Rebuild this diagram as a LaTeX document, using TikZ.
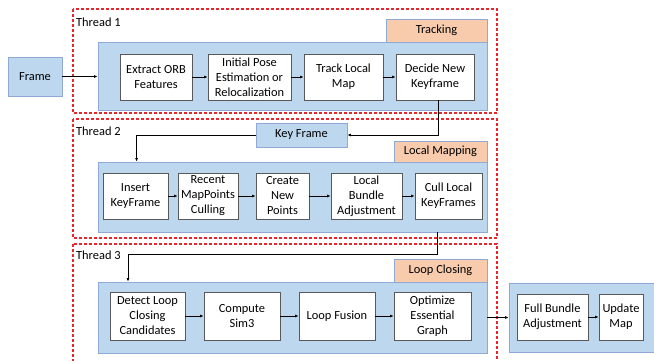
\documentclass[tikz,border=0pt]{standalone}
\usepackage{fontspec}
\setmainfont{Carlito}
\usetikzlibrary{arrows.meta}
\definecolor{panelfill}{HTML}{BDD7EE}
\definecolor{paneledge}{HTML}{8EA9D4}
\definecolor{tabfill}{HTML}{F8CBAD}
\definecolor{stepedge}{HTML}{595959}
\definecolor{threadred}{HTML}{E8262B}
\tikzset{
  panel/.style={draw=paneledge, fill=panelfill, line width=0.8pt, inner sep=0pt},
  tabbox/.style={draw=paneledge, fill=tabfill, line width=0.8pt, inner sep=0pt, font=\fontsize{12.4}{15}\selectfont},
  stepbox/.style={draw=stepedge, fill=white, line width=0.9pt, inner sep=1pt, align=center, font=\fontsize{12.4}{15}\selectfont},
  threadbox/.style={draw=threadred, line width=1.1pt, dash pattern=on 3pt off 2pt},
  threadlabel/.style={anchor=west, inner sep=0pt, font=\fontsize{12.4}{15}\selectfont},
  arr/.style={draw=black, line width=1pt, -{Latex[length=3.5pt,width=3pt]}},
}
\begin{document}
\begin{tikzpicture}[x=1pt, y=-1pt]
\useasboundingbox (0,0) rectangle (654,360);
\begin{scope}
\clip (0,0) rectangle (654,360);

% thread frames
\draw[threadbox] (73,9) rectangle (497,113);
\draw[threadbox] (73,119) rectangle (497,238);
\draw[threadbox] (73,244) rectangle (497,372);
\node[threadlabel] (t1) at (76,22) {Thread 1};
\node[threadlabel] (t2) at (76,131) {Thread 2};
\node[threadlabel] (t3) at (76,255) {Thread 3};

% input frame
\node[panel, minimum width=54, minimum height=39, font=\fontsize{12.4}{15}\selectfont] (frame) at (35,76.5) {Frame};

% tracking
\node[panel, minimum width=389, minimum height=68] (trk) at (292.5,76) {};
\node[tabbox, minimum width=101, minimum height=23] (trktab) at (436.5,30.5) {Tracking};
\node[stepbox, minimum width=72, minimum height=46] (orb) at (156,77) {Extract ORB\\Features};
\node[stepbox, minimum width=83, minimum height=46] (pose) at (249.5,77) {Initial Pose\\Estimation or\\Relocalization};
\node[stepbox, minimum width=79, minimum height=46] (tlm) at (343.5,77) {Track Local\\Map};
\node[stepbox, minimum width=78, minimum height=46] (dec) at (435,77) {Decide New\\Keyframe};

% local mapping
\node[panel, minimum width=91, minimum height=24, font=\fontsize{12.4}{15}\selectfont] (kf) at (301.5,135) {Key Frame};
\node[panel, minimum width=389, minimum height=70] (lm) at (292.5,197) {};
\node[tabbox, minimum width=93, minimum height=21] (lmtab) at (440.5,151.5) {Local Mapping};
\node[stepbox, minimum width=65, minimum height=46] (ins) at (135.5,196) {Insert\\KeyFrame};
\node[stepbox, minimum width=60, minimum height=46] (rmc) at (208,196) {Recent\\MapPoints\\Culling};
\node[stepbox, minimum width=53, minimum height=46] (cnp) at (282.5,196) {Create\\New\\Points};
\node[stepbox, minimum width=71, minimum height=46] (lba) at (366.5,196) {Local\\Bundle\\Adjustment};
\node[stepbox, minimum width=67, minimum height=46] (clk) at (448.5,196) {Cull Local\\KeyFrames};

% loop closing
\node[panel, minimum width=389, minimum height=71] (lc) at (292.5,317.5) {};
\node[tabbox, minimum width=93, minimum height=23] (lctab) at (440.5,270.5) {Loop Closing};
\node[stepbox, minimum width=75, minimum height=48] (dlc) at (147.5,316) {Detect Loop\\Closing\\Candidates};
\node[stepbox, minimum width=76, minimum height=48] (sim) at (242,316) {Compute\\Sim3};
\node[stepbox, minimum width=76, minimum height=48] (fus) at (337,316) {Loop Fusion};
\node[stepbox, minimum width=77, minimum height=48] (opt) at (432.5,316) {Optimize\\Essential\\Graph};

% global optimisation
\node[panel, minimum width=146, minimum height=69] (gba) at (582,317.5) {};
\node[stepbox, minimum width=71, minimum height=46] (fba) at (552.5,317) {Full Bundle\\Adjustment};
\node[stepbox, minimum width=44, minimum height=46] (upd) at (621,317) {Update\\Map};

% connectors
\draw[arr, line width=0.7pt] (frame.east) -- (frame.east -| trk.west);
\draw[arr] (orb) -- (pose);
\draw[arr] (pose) -- (tlm);
\draw[arr] (tlm) -- (dec);
\draw[arr] ([xshift=3]dec.south) |- (kf.east);
\draw[arr] (kf.west) -| ([xshift=39]lm.north west);
\draw[arr] (ins) -- (rmc);
\draw[arr] (rmc) -- (cnp);
\draw[arr] (cnp) -- (lba);
\draw[arr] (lba) -- (clk);
\coordinate (lcbend) at (128,254);
\draw[arr] ([xshift=-50]lm.south east) |- (lcbend) -- (lcbend |- lc.north);
\draw[arr] (dlc) -- (sim);
\draw[arr] (sim) -- (fus);
\draw[arr] (fus) -- (opt);
\draw[arr] (lc.east) -- (gba.west);
\draw[arr] (fba) -- (upd);
\end{scope}
\end{tikzpicture}
\end{document}
